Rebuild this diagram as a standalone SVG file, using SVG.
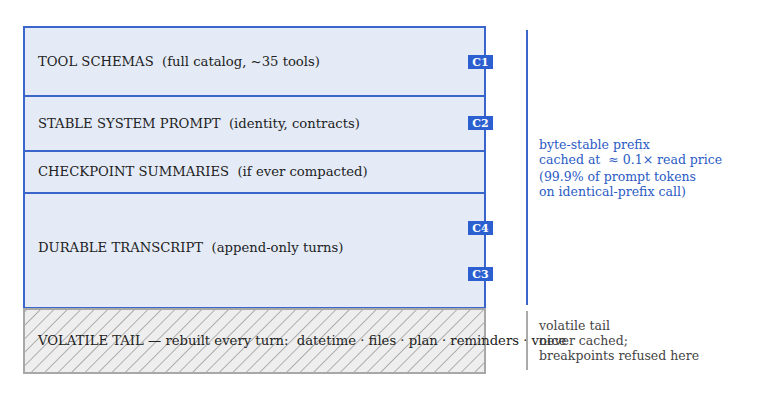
<svg xmlns="http://www.w3.org/2000/svg" width="778" height="401" viewBox="0 0 778 401">
<style>
text{white-space:pre}
.lbl{font-family:"DejaVu Serif",serif;font-size:13.2px;fill:#222}
.blk{fill:#e4ebf7;stroke:#3a66cc;stroke-width:2}
.badge rect{fill:#2c5fcf}
.badge text{font-family:"DejaVu Serif",serif;font-size:11px;font-weight:bold;fill:#fff;text-anchor:middle}
.note{font-family:"DejaVu Serif",serif;font-size:12.5px}
</style>
<defs>
<pattern id="hatch" patternUnits="userSpaceOnUse" width="9.5" height="9.5" patternTransform="rotate(45)">
<rect width="9.5" height="9.5" fill="#eeeeee"/>
<line x1="0" y1="0" x2="0" y2="9.5" stroke="#8c8c8c" stroke-width="1.3"/>
</pattern>
</defs>
<rect width="778" height="401" fill="#fff"/>
<g id="tool-schemas">
<rect class="blk" x="24" y="27" width="461" height="69"/>
<text class="lbl" x="38" y="66" xml:space="preserve">TOOL SCHEMAS  (full catalog, ~35 tools)</text>
</g>
<g id="stable-system-prompt">
<rect class="blk" x="24" y="96" width="461" height="55"/>
<text class="lbl" x="38" y="128" xml:space="preserve">STABLE SYSTEM PROMPT  (identity, contracts)</text>
</g>
<g id="checkpoint-summaries">
<rect class="blk" x="24" y="151" width="461" height="42"/>
<text class="lbl" x="38" y="176" xml:space="preserve">CHECKPOINT SUMMARIES  (if ever compacted)</text>
</g>
<g id="durable-transcript">
<rect class="blk" x="24" y="193" width="461" height="115"/>
<text class="lbl" x="38" y="252" xml:space="preserve">DURABLE TRANSCRIPT  (append-only turns)</text>
</g>
<g id="volatile-tail">
<rect x="24" y="309" width="461" height="64" fill="url(#hatch)" stroke="#a8a8a8" stroke-width="2"/>
<text class="lbl" x="38" y="345" xml:space="preserve">VOLATILE TAIL — rebuilt every turn:  datetime · files · plan · reminders · voice</text>
</g>
<g id="badges">
<g class="badge" id="c1"><rect x="468" y="55" width="25" height="14"/><text x="480.5" y="66">C1</text></g>
<g class="badge" id="c2"><rect x="468" y="116" width="25" height="14"/><text x="480.5" y="127">C2</text></g>
<g class="badge" id="c4"><rect x="468" y="221" width="25" height="14"/><text x="480.5" y="232">C4</text></g>
<g class="badge" id="c3"><rect x="468" y="267" width="25" height="14"/><text x="480.5" y="278">C3</text></g>
</g>
<g id="connectors">
<line x1="527" y1="30" x2="527" y2="305" stroke="#3a66cc" stroke-width="2"/>
<line x1="527" y1="311" x2="527" y2="370" stroke="#aaaaaa" stroke-width="2"/>
</g>
<g id="prefix-note" class="note" fill="#2a5bc4">
<text x="539" y="149">byte-stable prefix</text>
<text x="539" y="164" xml:space="preserve">cached at  ≈ 0.1× read price</text>
<text x="539" y="181">(99.9% of prompt tokens</text>
<text x="539" y="196">on identical-prefix call)</text>
</g>
<g id="tail-note" class="note" fill="#444">
<text x="539" y="330">volatile tail</text>
<text x="539" y="345">never cached;</text>
<text x="539" y="360">breakpoints refused here</text>
</g>
</svg>
